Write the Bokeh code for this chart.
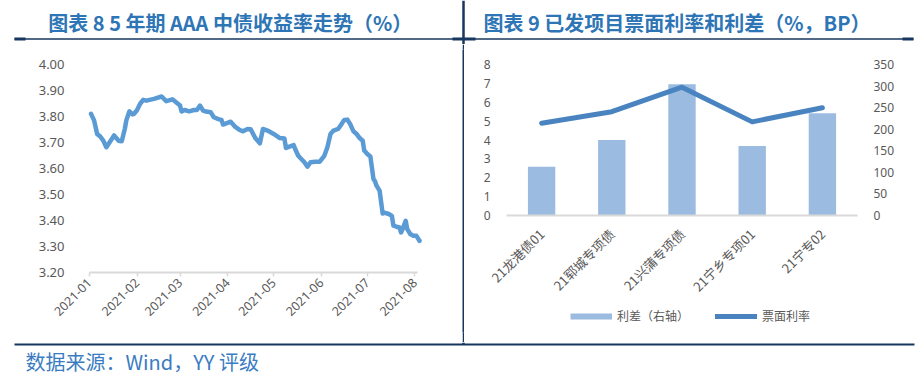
import math
from datetime import datetime, timedelta
import pandas as pd
from bokeh.plotting import figure
from bokeh.layouts import column, row
from bokeh.models import (Range1d, LinearAxis, FixedTicker,
                          DatetimeTickFormatter, PrintfTickFormatter, Legend,
                          LegendItem, Label)
from bokeh.core.properties import value
from bokeh.embed import file_html
from bokeh.resources import INLINE

# ---------------- data ----------------
yield_dates = [
    "2021-01-02", "2021-01-04", "2021-01-06", "2021-01-08", "2021-01-10", "2021-01-12",
    "2021-01-14", "2021-01-17", "2021-01-20", "2021-01-22", "2021-01-24", "2021-01-25",
    "2021-01-27", "2021-01-29", "2021-01-30", "2021-02-01", "2021-02-03", "2021-02-05",
    "2021-02-07", "2021-02-12", "2021-02-17", "2021-02-20", "2021-02-24", "2021-02-27",
    "2021-03-01", "2021-03-02", "2021-03-04", "2021-03-07", "2021-03-10", "2021-03-12",
    "2021-03-14", "2021-03-16", "2021-03-18", "2021-03-21", "2021-03-23", "2021-03-26",
    "2021-03-28", "2021-03-29", "2021-04-03", "2021-04-06", "2021-04-09", "2021-04-11",
    "2021-04-14", "2021-04-16", "2021-04-19", "2021-04-22", "2021-04-24", "2021-04-27",
    "2021-05-01", "2021-05-05", "2021-05-08", "2021-05-09", "2021-05-14", "2021-05-15",
    "2021-05-17", "2021-05-21", "2021-05-23", "2021-05-25", "2021-05-28", "2021-05-31",
    "2021-06-03", "2021-06-05", "2021-06-07", "2021-06-09", "2021-06-12", "2021-06-14",
    "2021-06-16", "2021-06-18", "2021-06-20", "2021-06-22", "2021-06-24", "2021-06-26",
    "2021-06-28", "2021-06-29", "2021-07-01", "2021-07-03", "2021-07-05", "2021-07-06",
    "2021-07-07", "2021-07-09", "2021-07-11", "2021-07-12", "2021-07-15", "2021-07-17",
    "2021-07-18", "2021-07-20", "2021-07-22", "2021-07-23", "2021-07-24", "2021-07-26",
    "2021-07-27", "2021-07-29", "2021-07-31", "2021-08-02", "2021-08-04",
]
yield_values = [
    3.810, 3.785, 3.733, 3.723, 3.707, 3.682,
    3.700, 3.727, 3.707, 3.705, 3.752, 3.785,
    3.820, 3.808, 3.810, 3.825, 3.849, 3.864,
    3.861, 3.868, 3.877, 3.859, 3.866, 3.852,
    3.842, 3.819, 3.825, 3.820, 3.825, 3.825,
    3.842, 3.823, 3.819, 3.816, 3.797, 3.790,
    3.787, 3.769, 3.780, 3.760, 3.748, 3.743,
    3.752, 3.751, 3.717, 3.697, 3.752, 3.746,
    3.733, 3.717, 3.715, 3.679, 3.690, 3.675,
    3.649, 3.624, 3.607, 3.624, 3.626, 3.626,
    3.649, 3.682, 3.733, 3.746, 3.752, 3.769,
    3.787, 3.788, 3.769, 3.743, 3.733, 3.717,
    3.707, 3.669, 3.656, 3.646, 3.560, 3.551,
    3.534, 3.515, 3.427, 3.430, 3.425, 3.418,
    3.380, 3.376, 3.373, 3.354, 3.367, 3.399,
    3.367, 3.348, 3.341, 3.341, 3.322,
]
month_ticks = ["2021-01", "2021-02", "2021-03", "2021-04",
               "2021-05", "2021-06", "2021-07", "2021-08"]
yield_ticks = [3.2, 3.3, 3.4, 3.5, 3.6, 3.7, 3.8, 3.9, 4.0]

bonds = ["21龙港债01", "21郓城专项债", "21兴蒲专项债", "21宁乡专项01", "21宁专02"]
coupon_rate = [4.89, 5.50, 6.80, 4.96, 5.71]      # 票面利率 (%), left axis
spread_bp = [113, 175, 304, 161, 237]             # 利差 (BP), right axis
left_ticks = [0, 1, 2, 3, 4, 5, 6, 7, 8]
right_ticks = [0, 50, 100, 150, 200, 250, 300, 350]

title_left = "图表  8 5 年期 AAA 中债收益率走势（%）"
title_right = "图表  9  已发项目票面利率和利差（%，BP）"
source_note = "数据来源：Wind，YY 评级"

# ---------------- styles ----------------
NAVY = "#17375E"
TBLUE = "#2E75B6"
GRAY = "#595959"
AXG = "#D9D9D9"
CJK = "Noto Sans CJK SC"
LINE1 = "#5B9BD5"
BARC = "#9BBBE0"
LINE2 = "#4A84C0"


def deco_fig(w, h):
    f = figure(width=w, height=h, x_range=Range1d(0, w), y_range=Range1d(h, 0),
               toolbar_location=None, output_backend="svg", min_border=0,
               x_axis_type=None, y_axis_type=None, outline_line_color=None)
    f.grid.visible = False
    return f


# ---------------- title strip ----------------
tf = deco_fig(922, 44)
tf.segment(x0=[14, 463], y0=[38.5, 0], x1=[913, 463], y1=[38.5, 44],
           line_color=NAVY, line_width=[1.5, 2.5])
tf.segment(x0=[14, 452, 902], y0=[38.5] * 3, x1=[25, 475, 913], y1=[38.5] * 3,
           line_color=NAVY, line_width=3)
for tx, tt in ((232, title_left), (681, title_right)):
    tf.add_layout(Label(x=tx, y=22, text=tt, text_align="center", text_baseline="middle",
                        text_font=CJK, text_font_size="20px", text_font_style="bold",
                        text_color=TBLUE))

# ---- geometry: both chart frames fill their figures (page y 49..332) ----
ROW_Y = 44                      # page y where the chart row starts
ROW_H = 298
TOP, BOT = 5, 10
F_TOP = ROW_Y + TOP             # page y of frame top
F_BOT = ROW_Y + ROW_H - BOT     # page y of frame bottom


def span(v_lo, y_lo, v_hi, y_hi):
    """range (start, end) whose values v_lo / v_hi land at page rows y_lo / y_hi"""
    per_px = (v_hi - v_lo) / (y_lo - y_hi)
    return v_lo - (F_BOT - y_lo) * per_px, v_hi + (y_hi - F_TOP) * per_px


# ---------------- left chart ----------------
W1 = 462
LEFT1 = 89                      # page x of 2021-01-01
PXD = 330 / 215                 # pixels per day
jan1 = datetime(2021, 1, 1)
p1 = figure(width=W1, height=ROW_H, x_axis_type="datetime",
            x_range=Range1d(jan1 - timedelta(days=LEFT1 / PXD),
                            jan1 + timedelta(days=(W1 - LEFT1) / PXD)),
            y_range=Range1d(*span(yield_ticks[0], 272, yield_ticks[-1], 64)),
            toolbar_location=None, output_backend="svg",
            min_border_left=0, min_border_right=0, min_border_top=TOP,
            min_border_bottom=BOT, outline_line_color=None)
p1.grid.visible = False
p1.line(x=pd.to_datetime(yield_dates), y=yield_values, line_color=LINE1,
        line_width=4.5, line_join="round", line_cap="round")

jan1_ms = pd.Timestamp("2021-01-01").value // 10**6
end_ms = pd.Timestamp("2021-08-03").value // 10**6

xa = p1.xaxis[0]
xa.fixed_location = yield_ticks[0]
xa.bounds = (jan1_ms, end_ms)
xa.ticker = FixedTicker(ticks=[pd.Timestamp(m + "-01").value // 10**6 for m in month_ticks])
xa.formatter = DatetimeTickFormatter(days="%Y-%m", months="%Y-%m", years="%Y-%m",
                                     hours="%Y-%m", hourmin="%Y-%m")
xa.major_label_orientation = math.pi / 4
xa.axis_line_color = AXG
xa.axis_line_width = 2
xa.major_tick_line_color = AXG
xa.major_tick_line_width = 1.5
xa.major_tick_in = 0
xa.major_tick_out = 4
xa.minor_tick_line_color = None
xa.major_label_text_font = "Noto Sans"
xa.major_label_text_font_size = "12.5px"
xa.major_label_text_color = GRAY
xa.major_label_standoff = 4

ya = p1.yaxis[0]
ya.fixed_location = jan1_ms
ya.ticker = FixedTicker(ticks=yield_ticks)
ya.formatter = PrintfTickFormatter(format="%.2f")
ya.axis_line_color = None
ya.major_tick_line_color = None
ya.minor_tick_line_color = None
ya.major_label_text_font = "Noto Sans"
ya.major_label_text_font_size = "13px"
ya.major_label_text_color = GRAY
ya.major_label_standoff = 19

# ---------------- divider ----------------
dv = figure(width=2, height=ROW_H, toolbar_location=None, output_backend="svg",
            min_border=0, x_axis_type=None, y_axis_type=None, outline_line_color=None,
            background_fill_color=NAVY, border_fill_color=NAVY)
dv.grid.visible = False

# ---------------- right chart ----------------
W2 = 458
xs = list(range(len(bonds)))    # category slots
CAT = 70.2                      # pixels per category slot
PAD_L, PAD_R = 42, 65           # page space left / right of the category band
p2 = figure(width=W2, height=ROW_H,
            x_range=Range1d(-0.5 - PAD_L / CAT, len(bonds) - 0.5 + PAD_R / CAT),
            y_range=Range1d(*span(left_ticks[0], 215, left_ticks[-1], 64)),
            toolbar_location=None, output_backend="svg",
            min_border_left=0, min_border_right=0, min_border_top=TOP,
            min_border_bottom=BOT, outline_line_color=None)
p2.grid.visible = False
p2.extra_y_ranges = {"bp": Range1d(*span(right_ticks[0], 215, right_ticks[-1], 64))}

bars = p2.vbar(x=xs, top=spread_bp, width=0.39, y_range_name="bp",
               fill_color=BARC, line_color=None)
cline = p2.line(x=xs, y=coupon_rate, line_color=LINE2, line_width=5,
                line_cap="round", line_join="round")
proxy = p2.line(x=xs, y=spread_bp, y_range_name="bp", line_color=BARC,
                line_width=6, line_cap="butt", visible=False)

ra = LinearAxis(y_range_name="bp", ticker=FixedTicker(ticks=right_ticks))
p2.add_layout(ra, "right")
la = p2.yaxis[0]
la.ticker = FixedTicker(ticks=left_ticks)
la.fixed_location = -0.5
ra.fixed_location = len(bonds) - 0.5
for ax in (la, ra):
    ax.axis_line_color = None
    ax.major_tick_line_color = None
    ax.minor_tick_line_color = None
    ax.major_label_text_font = "Noto Sans"
    ax.major_label_text_font_size = "12px"
    ax.major_label_text_color = GRAY
    ax.major_label_standoff = 10

bx = p2.xaxis[0]
bx.fixed_location = 0
bx.bounds = (-0.5, len(bonds) - 0.5)
bx.ticker = FixedTicker(ticks=xs)
bx.major_label_overrides = {i: b for i, b in zip(xs, bonds)}
bx.axis_line_color = AXG
bx.axis_line_width = 2
bx.major_tick_line_color = None
bx.minor_tick_line_color = None
bx.major_label_orientation = math.pi / 4
bx.major_label_text_font = CJK
bx.major_label_text_font_size = "13px"
bx.major_label_text_color = GRAY
bx.major_label_standoff = 10

legend = Legend(items=[LegendItem(label=value("利差（右轴）"), renderers=[proxy]),
                       LegendItem(label=value("票面利率"), renderers=[cline])],
                orientation="horizontal", location=(106, 8),
                glyph_width=42, glyph_height=16, label_height=16, label_standoff=5,
                spacing=26, padding=0, margin=0, border_line_color=None,
                background_fill_alpha=0, label_text_font=CJK,
                label_text_font_size="12px", label_text_color=GRAY)
p2.add_layout(legend)

# ---------------- footer ----------------
ff = deco_fig(922, 36)
ff.segment(x0=[14, 463], y0=[2, 0], x1=[914, 463], y1=[2, 2],
           line_color=NAVY, line_width=[2, 2.5])
ff.add_layout(Label(x=25, y=19, text=source_note, text_align="left",
                    text_baseline="middle", text_font=CJK, text_font_size="20px",
                    text_color="#3A7CC2"))

layout = column(tf, row(p1, dv, p2, spacing=0), ff, spacing=0)

open("out.html", "w").write(file_html(layout, INLINE))
